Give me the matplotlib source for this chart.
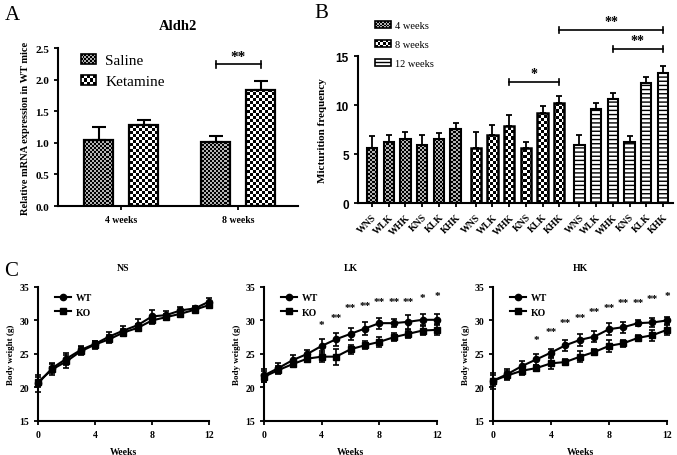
import matplotlib
matplotlib.use('Agg')
import matplotlib.pyplot as plt
import numpy as np
from matplotlib.lines import Line2D
from matplotlib.patches import Patch, Rectangle
from matplotlib.legend_handler import HandlerBase

plt.rcParams['font.family'] = ['Liberation Serif', 'DejaVu Serif']
plt.rcParams['hatch.linewidth'] = 1.0

# ---------------- Data ----------------
# Panel A
a_groups = ['4 weeks', '8 weeks']
a_saline = [1.05, 1.01]
a_saline_err = [0.20, 0.10]
a_ketamine = [1.28, 1.84]
a_ketamine_err = [0.08, 0.14]

# Panel B
b_labels = ['WNS', 'WLK', 'WHK', 'KNS', 'KLK', 'KHK']
b_4w = [5.6, 6.2, 6.55, 5.9, 6.55, 7.6]
b_4w_err = [1.2, 0.7, 0.65, 1.05, 0.6, 0.6]
b_8w = [5.6, 6.9, 7.9, 5.6, 9.2, 10.25]
b_8w_err = [1.6, 1.05, 1.05, 0.6, 0.7, 0.65]
b_12w = [5.9, 9.6, 10.6, 6.2, 12.25, 13.3]
b_12w_err = [1.05, 0.65, 0.6, 0.65, 0.65, 0.65]

# Panel C
weeks = list(range(13))
ns_wt = [20.6, 22.9, 24.3, 25.6, 26.5, 27.6, 28.5, 29.3, 30.6, 30.8, 31.5, 31.8, 32.8]
ns_wt_err = [1.3, 0.8, 0.9, 0.6, 0.5, 0.7, 0.7, 0.9, 1.0, 0.6, 0.5, 0.4, 0.6]
ns_ko = [20.8, 22.7, 23.9, 25.4, 26.4, 27.2, 28.2, 28.9, 30.0, 30.5, 31.0, 31.6, 32.3]
ns_ko_err = [0.8, 0.8, 1.0, 0.6, 0.6, 0.6, 0.5, 0.5, 0.6, 0.5, 0.5, 0.4, 0.5]
lk_wt = [21.8, 22.9, 24.1, 25.0, 26.2, 27.2, 28.0, 28.8, 29.6, 29.6, 29.8, 30.1, 30.1]
lk_wt_err = [1.0, 0.7, 0.7, 0.6, 1.0, 1.0, 0.9, 0.9, 0.8, 0.6, 1.0, 0.8, 0.8]
lk_ko = [21.6, 22.6, 23.5, 24.3, 24.6, 24.6, 25.7, 26.3, 26.8, 27.5, 28.0, 28.5, 28.6]
lk_ko_err = [0.8, 0.6, 0.5, 0.5, 0.8, 1.2, 0.7, 0.6, 0.8, 0.6, 0.6, 0.7, 0.8]
lk_stars = {4: '*', 5: '**', 6: '**', 7: '**', 8: '**', 9: '**', 10: '**', 11: '*', 12: '*'}
lk_star_y = {4: 29.4, 5: 30.4, 6: 32.0, 7: 32.3, 8: 32.9, 9: 32.9, 10: 32.9, 11: 33.4, 12: 33.8}
hk_wt = [21.0, 22.0, 23.2, 24.2, 25.2, 26.3, 27.1, 27.6, 28.7, 29.0, 29.6, 29.7, 30.0]
hk_wt_err = [1.2, 0.8, 0.8, 0.8, 0.6, 0.8, 0.9, 0.8, 0.9, 0.8, 0.5, 0.7, 0.5]
hk_ko = [21.0, 21.8, 22.5, 22.9, 23.6, 23.8, 24.6, 25.3, 26.2, 26.6, 27.4, 27.8, 28.6]
hk_ko_err = [0.8, 0.7, 0.7, 0.5, 0.8, 0.4, 0.8, 0.5, 0.9, 0.5, 0.4, 0.8, 0.7]
hk_stars = {3: '*', 4: '**', 5: '**', 6: '**', 7: '**', 8: '**', 9: '**', 10: '**', 11: '**', 12: '*'}
hk_star_y = {3: 27.1, 4: 28.4, 5: 29.75, 6: 30.5, 7: 31.35, 8: 32.0, 9: 32.75, 10: 32.75, 11: 33.35, 12: 33.75}

W_PX, H_PX = 677, 456
fig = plt.figure(figsize=(W_PX / 100, H_PX / 100), dpi=100)


def checker_bar(ax, x, h, w, cell_px, lw=1.6, light=1.0):
    bars = ax.bar(x, h, w, color='none', edgecolor='black', linewidth=lw, zorder=3)
    patch = bars[0]
    pos = ax.get_position()
    nx = max(2, int(round(pos.width * W_PX / cell_px)))
    ny = max(2, int(round(pos.height * H_PX / cell_px)))
    img = np.indices((ny, nx)).sum(axis=0) % 2
    im = ax.imshow(img * light, cmap='gray', vmin=0, vmax=1, extent=(0, 1, 0, 1),
                   transform=ax.transAxes, interpolation='nearest', aspect='auto', zorder=2)
    im.set_clip_path(patch)


def hatched_bar(ax, x, h, w, face, hatch, hcolor, lw=1.6):
    ax.bar(x, h, w, color=face, edgecolor=hcolor, hatch=hatch, linewidth=0, zorder=2)
    ax.bar(x, h, w, color='none', edgecolor='black', linewidth=lw, zorder=3)


class CheckerHandler(HandlerBase):
    def __init__(self, ncols, hatch=None, light='white'):
        super().__init__()
        self.ncols = ncols
        self.hatch = hatch
        self.light = light

    def create_artists(self, legend, orig_handle, xdescent, ydescent, width, height,
                       fontsize, trans):
        x0, y0 = -xdescent, -ydescent
        arts = [Rectangle((x0, y0), width, height, facecolor=self.light, edgecolor='none',
                          transform=trans)]
        if self.hatch is None:
            cw = width / self.ncols
            nr = max(1, int(round(height / cw)))
            ch = height / nr
            for i in range(nr):
                for j in range(self.ncols):
                    if (i + j) % 2 == 0:
                        arts.append(Rectangle((x0 + j * cw, y0 + i * ch), cw, ch,
                                              facecolor='black', linewidth=0, transform=trans))
        else:
            arts.append(Rectangle((x0, y0), width, height, facecolor='white', edgecolor='black',
                                  hatch=self.hatch, linewidth=0, transform=trans))
        arts.append(Rectangle((x0, y0), width, height, facecolor='none', edgecolor='black',
                              linewidth=1.2, transform=trans))
        return arts


def style_axes(ax):
    for s in ['top', 'right']:
        ax.spines[s].set_visible(False)
    for s in ['left', 'bottom']:
        ax.spines[s].set_linewidth(1.5)
    ax.tick_params(width=1.3, length=3, direction='out')


def bracket(ax, x1, x2, y, txt, dy, fs):
    ax.plot([x1, x2], [y, y], color='black', lw=1.2, clip_on=False)
    ax.plot([x1, x1], [y - dy, y + dy], color='black', lw=1.2, clip_on=False)
    ax.plot([x2, x2], [y - dy, y + dy], color='black', lw=1.2, clip_on=False)
    ax.text((x1 + x2) / 2, y + dy * 0.6, txt, ha='center', va='bottom', fontsize=fs,
            fontweight='bold', clip_on=False)


# ---------------- Panel A ----------------
axA = fig.add_axes([0.0857, 0.546, 0.3545, 0.3465])
xa = np.arange(len(a_groups))
off, bw = 0.192, 0.248
for i in range(len(a_groups)):
    checker_bar(axA, xa[i] - off, a_saline[i], bw, 2, light=0.7)
    checker_bar(axA, xa[i] + off, a_ketamine[i], bw, 3)
axA.errorbar(xa - off, a_saline, yerr=[np.zeros(2), a_saline_err], fmt='none',
             ecolor='black', elinewidth=1.5, capsize=5, capthick=1.5, zorder=1)
axA.errorbar(xa + off, a_ketamine, yerr=[np.zeros(2), a_ketamine_err], fmt='none',
             ecolor='black', elinewidth=1.5, capsize=5, capthick=1.5, zorder=1)
axA.set_xlim(-0.54, 1.51)
axA.set_ylim(0, 2.5)
axA.set_yticks([0, 0.5, 1.0, 1.5, 2.0, 2.5])
axA.set_yticklabels(['0.0', '0.5', '1.0', '1.5', '2.0', '2.5'], fontweight='bold', fontsize=8)
axA.set_xticks(xa)
axA.set_xticklabels(a_groups, fontweight='bold', fontsize=7)
style_axes(axA)
axA.set_ylabel('Relative mRNA expression in WT mice', fontweight='bold', fontsize=7.5, labelpad=4)
axA.set_title('Aldh2', fontweight='bold', fontsize=10.5, pad=14)
bracket(axA, 1 - off, 1 + off, 2.24, '**', 0.05, 11)
hA = [Patch(), Patch(facecolor='k')]
axA.legend(hA, ['Saline', 'Ketamine'], loc='upper left', bbox_to_anchor=(0.037, 1.05),
           frameon=False, fontsize=11, handlelength=1.0, handleheight=0.65,
           labelspacing=0.5, handletextpad=0.6,
           handler_map={hA[0]: CheckerHandler(8, light='#b0b0b0'), hA[1]: CheckerHandler(5)})

# ---------------- Panel B ----------------
axB = fig.add_axes([0.5288, 0.5526, 0.4653, 0.3224])
group_data = [(b_4w, b_4w_err), (b_8w, b_8w_err), (b_12w, b_12w_err)]
xs_all, lab_all = [], []
bwb = 0.62
for g, (vals, errs) in enumerate(group_data):
    xs = g * 6.2 + np.arange(len(b_labels))
    for j in range(len(b_labels)):
        if g == 0:
            checker_bar(axB, xs[j], vals[j], bwb, 2, lw=1.5, light=0.7)
        elif g == 1:
            checker_bar(axB, xs[j], vals[j], bwb, 3, lw=1.8)
        else:
            hatched_bar(axB, xs[j], vals[j], bwb, '#ffffff', '----', '#000000', lw=1.5)
    axB.errorbar(xs, vals, yerr=[np.zeros(len(vals)), errs], fmt='none', ecolor='black',
                 elinewidth=1.3, capsize=2.5, capthick=1.3, zorder=1)
    xs_all.extend(xs)
    lab_all.extend(b_labels)
axB.set_xlim(-0.84, 18.0)
axB.set_ylim(0, 15)
axB.set_yticks([0, 5, 10, 15])
axB.set_yticklabels(['0', '5', '10', '15'], fontweight='bold', fontsize=8.5,
                    family='Liberation Sans')
axB.set_xticks(xs_all)
axB.set_xticklabels(lab_all, rotation=45, ha='right', rotation_mode='anchor',
                    fontweight='bold', fontsize=7)
style_axes(axB)
axB.set_ylabel('Micturition frequency', fontweight='bold', fontsize=8, labelpad=6)
bracket(axB, 6.2 + 2, 6.2 + 5, 12.35, '*', 0.3, 10)
bracket(axB, 12.4 + 2, 12.4 + 5, 15.7, '**', 0.3, 10)
bracket(axB, 6.2 + 5, 12.4 + 5, 17.65, '**', 0.3, 10)
hB = [Patch(), Patch(facecolor='k'), Patch(facecolor='w')]
axB.legend(hB, ['4 weeks', '8 weeks', '12 weeks'], loc='upper left',
           bbox_to_anchor=(0.025, 1.30), frameon=False, fontsize=7.5,
           handlelength=1.5, handleheight=0.6, labelspacing=0.95, handletextpad=0.4,
           handler_map={hB[0]: CheckerHandler(9, light='#b0b0b0'), hB[1]: CheckerHandler(6),
                        hB[2]: CheckerHandler(1, hatch='--')})

# ---------------- Panel C ----------------
c_specs = [
    ([0.0561, 0.0746, 0.2526, 0.2939], 'NS', ns_wt, ns_wt_err, ns_ko, ns_ko_err, {}, {}),
    ([0.3900, 0.0746, 0.2555, 0.2939], 'LK', lk_wt, lk_wt_err, lk_ko, lk_ko_err, lk_stars, lk_star_y),
    ([0.7282, 0.0746, 0.2570, 0.2939], 'HK', hk_wt, hk_wt_err, hk_ko, hk_ko_err, hk_stars, hk_star_y),
]
for rect, title, wt, wte, ko, koe, stars, stary in c_specs:
    ax = fig.add_axes(rect)
    ax.errorbar(weeks, wt, yerr=wte, color='black', marker='o', markersize=4.5, lw=1.5,
                elinewidth=1.2, capsize=2.5, capthick=1.2, clip_on=False, zorder=3)
    ax.errorbar(weeks, ko, yerr=koe, color='black', marker='s', markersize=4.2, lw=1.5,
                elinewidth=1.2, capsize=2.5, capthick=1.2, clip_on=False, zorder=3)
    for k, s in stars.items():
        ax.text(k, stary[k], s, ha='center', va='center', fontsize=8, fontweight='bold')
    ax.set_xlim(0, 12)
    ax.set_ylim(15, 35)
    ax.set_xticks([0, 4, 8, 12])
    ax.set_yticks([15, 20, 25, 30, 35])
    ax.tick_params(labelsize=7)
    for t in ax.get_xticklabels() + ax.get_yticklabels():
        t.set_fontweight('bold')
    style_axes(ax)
    ax.set_xlabel('Weeks', fontweight='bold', fontsize=7, labelpad=6)
    ax.set_ylabel('Body weight (g)', fontweight='bold', fontsize=6.5, labelpad=3)
    ax.set_title(title, fontweight='bold', fontsize=7, pad=12)
    hC = [Line2D([], [], color='black', marker='o', markersize=4.5, lw=1.5),
          Line2D([], [], color='black', marker='s', markersize=4.2, lw=1.5)]
    ax.legend(hC, ['WT', 'KO'], loc='upper left', bbox_to_anchor=(0.05, 1.02), frameon=False,
              prop={'weight': 'bold', 'size': 7}, handlelength=1.6, labelspacing=0.6,
              handletextpad=0.5)

# Panel letters
fig.text(12 / W_PX, 1 - 15 / H_PX, 'A', fontsize=15, ha='center', va='center')
fig.text(321 / W_PX, 1 - 14 / H_PX, 'B', fontsize=15, ha='center', va='center')
fig.text(11 / W_PX, 1 - 271 / H_PX, 'C', fontsize=15, ha='center', va='center')

fig.savefig('out.png', dpi=100)
